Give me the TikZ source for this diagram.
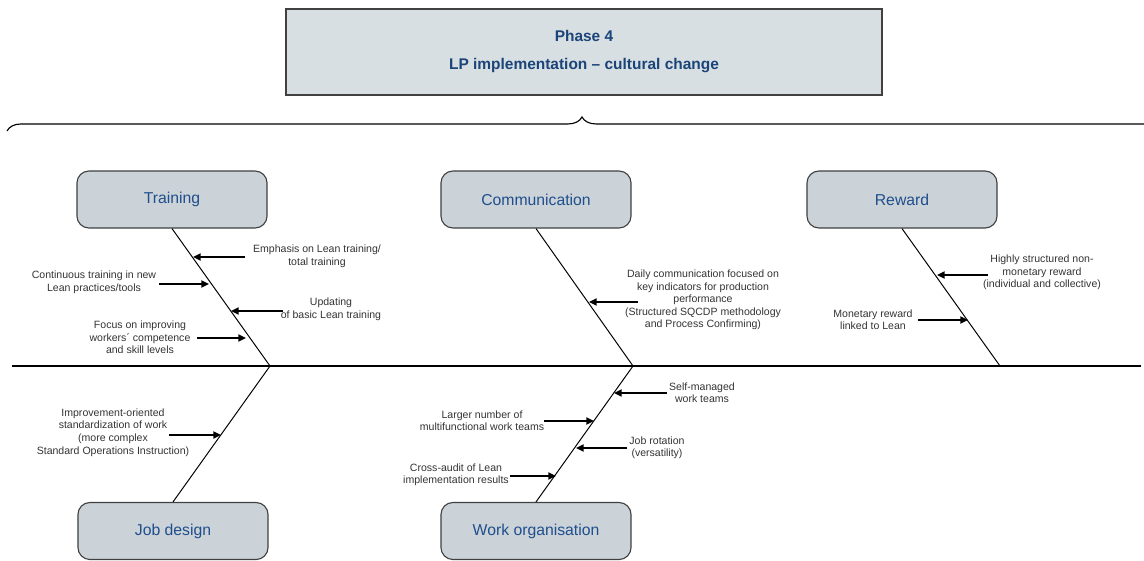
\documentclass[tikz,border=0pt]{standalone}
\usepackage{fontspec}
\setmainfont{Liberation Sans}
\usetikzlibrary{arrows.meta}
\usetikzlibrary{decorations.pathreplacing}

\definecolor{titlefill}{HTML}{D8DFE3}
\definecolor{boxfill}{HTML}{CBD3D9}
\definecolor{titleblue}{HTML}{1B4478}
\definecolor{labelblue}{HTML}{1F4E8C}
\definecolor{notegray}{HTML}{333333}

\begin{document}
\begin{tikzpicture}[x=0.025cm, y=-0.025cm,
  cause/.style={draw=black!75, line width=0.8pt, fill=boxfill, rounded corners=8.5pt,
    minimum width=4.75cm, minimum height=1.425cm, text=labelblue,
    font=\fontsize{11.2}{13}\selectfont},
  note/.style={align=center, inner sep=0pt, text=notegray,
    font=\fontsize{7.5}{8.9}\selectfont},
  push/.style={-{Triangle[length=5.5pt,width=5pt]}, line width=1.5pt},
  bone/.style={line width=0.7pt}]

\useasboundingbox (0,0) rectangle (1144,560);

% Phase box and brace
\node[draw=black!75, line width=1pt, fill=titlefill, minimum width=14.9cm, minimum height=2.15cm,
  align=center, text=titleblue, font=\bfseries\fontsize{11}{19.9}\selectfont]
  (phase) at (584,52) {Phase 4\\LP implementation -- cultural change};
\coordinate (braceL) at (7,131);
\coordinate (braceR) at (1157,131);
\draw[line width=0.8pt, decorate, decoration={brace, amplitude=10pt}] (braceL) -- (braceR);

% Spine
\coordinate (spineL) at (12,366);
\coordinate (spineR) at (1141,366);
\draw[line width=1.6pt] (spineL) -- (spineR);
\coordinate (tjoin) at (270,366);
\coordinate (cjoin) at (633,366);
\coordinate (rjoin) at (1000,366);

% Training
\node[cause] (training) at (172,199.5) {Training};
\draw[bone] (training.south) -- (tjoin);
\node[note] (t1) at (317,256.5) {Emphasis on Lean training/\\total training};
\coordinate (t1a) at (245,257); \coordinate (t1b) at (193,257);
\draw[push] (t1a) -- (t1b);
\node[note] (t2) at (94,282.5) {Continuous training in new\\Lean practices/tools};
\coordinate (t2a) at (159,284); \coordinate (t2b) at (209,284);
\draw[push] (t2a) -- (t2b);
\node[note] (t3) at (331,309.5) {Updating\\of basic Lean training};
\coordinate (t3a) at (283,311); \coordinate (t3b) at (231,311);
\draw[push] (t3a) -- (t3b);
\node[note] (t4) at (140,337.5) {Focus on improving\\workers´ competence\\and skill levels};
\coordinate (t4a) at (197,338); \coordinate (t4b) at (246,338);
\draw[push] (t4a) -- (t4b);

% Communication
\node[cause] (communication) at (536,199.5) {Communication};
\draw[bone] (communication.south) -- (cjoin);
\node[note] (c1) at (703,300) {Daily communication focused on\\key indicators for production\\performance\\(Structured SQCDP methodology\\and Process Confirming)};
\coordinate (c1a) at (638,302); \coordinate (c1b) at (589,302);
\draw[push] (c1a) -- (c1b);

% Reward
\node[cause] (reward) at (902,199.5) {Reward};
\draw[bone] (reward.south) -- (rjoin);
\node[note] (r1) at (1042,272.5) {Highly structured non-\\monetary reward\\(individual and collective)};
\coordinate (r1a) at (988,275); \coordinate (r1b) at (937,275);
\draw[push] (r1a) -- (r1b);
\node[note] (r2) at (873,319.5) {Monetary reward\\linked to Lean};
\coordinate (r2a) at (918,320); \coordinate (r2b) at (968,320);
\draw[push] (r2a) -- (r2b);

% Job design
\node[cause] (jobdesign) at (173,531) {Job design};
\draw[bone] (jobdesign.north) -- (tjoin);
\node[note] (j1) at (113,432.5) {Improvement-oriented\\standardization of work\\(more complex\\Standard Operations Instruction)};
\coordinate (j1a) at (169,435); \coordinate (j1b) at (221,435);
\draw[push] (j1a) -- (j1b);

% Work organisation
\node[cause] (workorg) at (536,531) {Work organisation};
\draw[bone] (workorg.north) -- (cjoin);
\node[note] (w1) at (702,392.5) {Self-managed\\work teams};
\coordinate (w1a) at (667,393); \coordinate (w1b) at (614,393);
\draw[push] (w1a) -- (w1b);
\node[note] (w2) at (482,420.5) {Larger number of\\multifunctional work teams};
\coordinate (w2a) at (544,421); \coordinate (w2b) at (594,421);
\draw[push] (w2a) -- (w2b);
\node[note] (w3) at (657,448) {Job rotation\\(versatility)};
\coordinate (w3a) at (627,448); \coordinate (w3b) at (576,448);
\draw[push] (w3a) -- (w3b);
\node[note] (w4) at (456,475) {Cross-audit of Lean\\implementation results};
\coordinate (w4a) at (510,476); \coordinate (w4b) at (556,476);
\draw[push] (w4a) -- (w4b);

\end{tikzpicture}
\end{document}
